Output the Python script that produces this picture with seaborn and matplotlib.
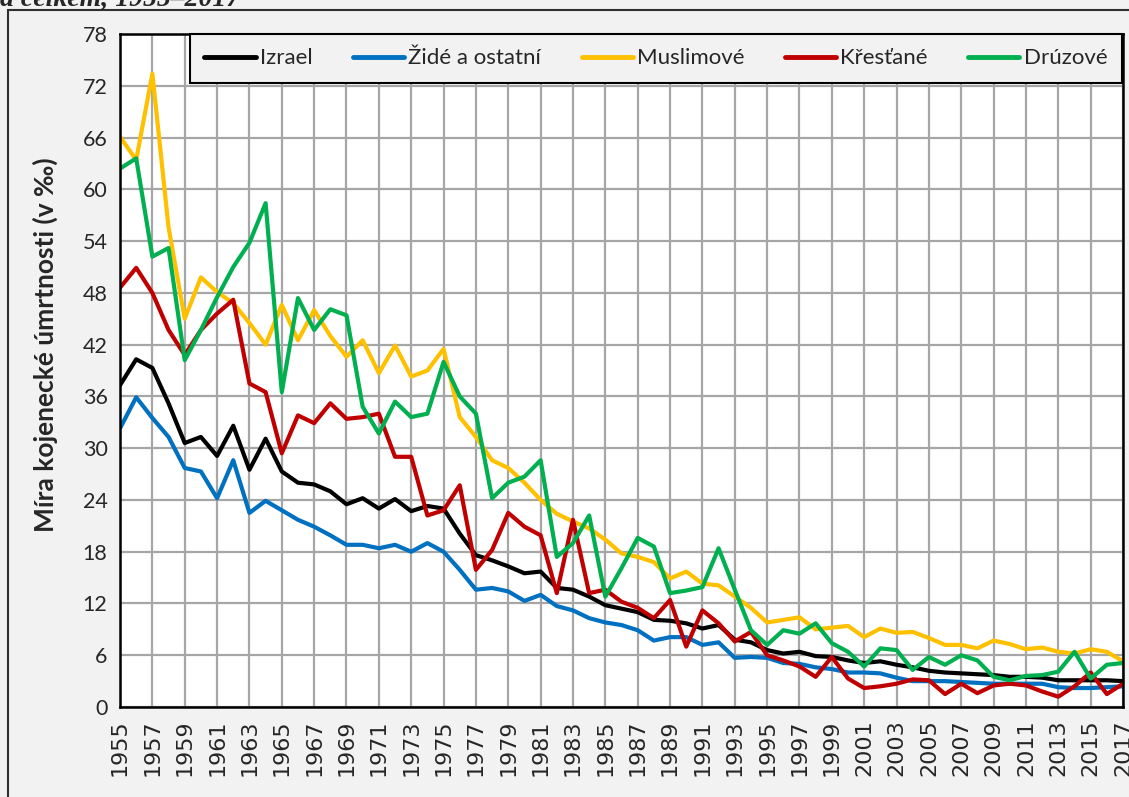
import matplotlib
matplotlib.use("Agg")
import matplotlib.pyplot as plt
import seaborn as sns
import pandas as pd
from matplotlib.patches import Rectangle

# kojenecká úmrtnost (v promilích), 1955-2017
years = list(range(1955, 2018))

izrael = [37.3, 40.3, 39.3, 35.2, 30.6, 31.3, 29.1, 32.6, 27.5, 31.1,
          27.3, 26.0, 25.8, 25.0, 23.5, 24.2, 23.0, 24.1, 22.7, 23.3,
          23.0, 20.1, 17.6, 17.0, 16.3, 15.5, 15.7, 13.8, 13.6, 12.8,
          11.8, 11.4, 11.0, 10.1, 10.0, 9.7, 9.1, 9.5, 7.8, 7.5,
          6.6, 6.2, 6.4, 5.9, 5.8, 5.4, 5.1, 5.3, 4.9, 4.6,
          4.2, 4.0, 3.9, 3.8, 3.7, 3.5, 3.5, 3.4, 3.1, 3.1,
          3.1, 3.1, 3.0]

zide = [32.3, 35.9, 33.5, 31.3, 27.7, 27.3, 24.2, 28.6, 22.5, 23.9,
        22.8, 21.7, 20.9, 19.9, 18.8, 18.8, 18.4, 18.8, 18.0, 19.0,
        18.0, 15.9, 13.6, 13.8, 13.4, 12.3, 13.0, 11.7, 11.2, 10.3,
        9.8, 9.5, 8.9, 7.7, 8.1, 8.1, 7.2, 7.5, 5.7, 5.8,
        5.7, 5.1, 5.0, 4.6, 4.4, 4.0, 4.0, 3.9, 3.4, 3.0,
        3.0, 3.0, 2.9, 2.8, 2.7, 2.7, 2.7, 2.7, 2.3, 2.2,
        2.2, 2.3, 2.4]

muslimove = [66.1, 63.4, 73.4, 55.6, 45.0, 49.8, 48.1, 46.8, 44.5, 42.0,
             46.6, 42.5, 46.0, 43.0, 40.6, 42.5, 38.7, 41.9, 38.3, 39.0,
             41.5, 33.6, 31.3, 28.6, 27.7, 26.0, 24.0, 22.4, 21.5, 20.7,
             19.4, 17.8, 17.4, 16.8, 14.9, 15.7, 14.3, 14.1, 12.8, 11.5,
             9.8, 10.1, 10.4, 9.0, 9.2, 9.4, 8.1, 9.1, 8.6, 8.7,
             8.0, 7.2, 7.2, 6.8, 7.7, 7.3, 6.7, 6.9, 6.4, 6.2,
             6.7, 6.4, 5.3]

krestane = [48.6, 50.9, 48.0, 43.7, 40.8, 43.7, 45.6, 47.2, 37.5, 36.5,
            29.4, 33.8, 32.9, 35.2, 33.4, 33.6, 34.0, 29.0, 29.0, 22.2,
            22.8, 25.7, 15.9, 18.2, 22.5, 20.9, 19.9, 13.2, 21.7, 13.2,
            13.6, 12.2, 11.5, 10.3, 12.4, 7.0, 11.2, 9.7, 7.6, 8.7,
            6.0, 5.4, 4.7, 3.5, 5.8, 3.3, 2.2, 2.4, 2.7, 3.2,
            3.1, 1.5, 2.7, 1.6, 2.5, 2.7, 2.5, 1.8, 1.2, 2.4,
            4.0, 1.5, 2.7]

druzove = [62.4, 63.6, 52.2, 53.2, 40.2, 43.7, 47.5, 51.0, 53.8, 58.4,
           36.5, 47.4, 43.7, 46.1, 45.4, 34.8, 31.7, 35.4, 33.6, 34.0,
           40.0, 36.0, 34.0, 24.2, 26.0, 26.7, 28.6, 17.4, 19.0, 22.2,
           12.8, 16.1, 19.6, 18.6, 13.2, 13.5, 13.9, 18.4, 13.6, 8.9,
           7.2, 8.9, 8.5, 9.7, 7.4, 6.4, 4.7, 6.8, 6.6, 4.3,
           5.8, 4.9, 6.0, 5.4, 3.5, 3.1, 3.6, 3.7, 4.1, 6.4,
           3.3, 4.9, 5.1]

names = ["Izrael", "Židé a ostatní", "Muslimové", "Křesťané", "Drúzové"]
colors = ["#000000", "#0070C0", "#FFC000", "#C00000", "#00B050"]
values = [izrael, zide, muslimove, krestane, druzove]

df = pd.DataFrame({
    "rok": years * len(names),
    "hodnota": sum(values, []),
    "skupina": sum([[n] * len(years) for n in names], []),
})

sns.set_theme(style="white")
plt.rcParams["font.family"] = ["Lato", "DejaVu Sans"]

fig = plt.figure(figsize=(11.29, 7.97), dpi=100, facecolor="#f2f2f2")
ax = fig.add_axes([0.1063, 0.1129, 0.8884, 0.8444])
ax.set_facecolor("white")

sns.lineplot(data=df, x="rok", y="hodnota", hue="skupina", hue_order=names,
             palette=colors, linewidth=3, ax=ax)
for line in ax.get_lines():
    line.set_solid_joinstyle("round")
    line.set_solid_capstyle("round")

ax.set_xlim(1955, 2017)
ax.set_ylim(0, 78)
ax.set_yticks(range(0, 79, 6))
ax.set_xticks(range(1955, 2018, 2))
ax.set_xticklabels([str(y) for y in range(1955, 2018, 2)], rotation=90,
                   fontsize=16, family="DejaVu Sans")
ax.tick_params(axis="y", labelsize=15.5, pad=9, length=0)
ax.tick_params(axis="x", pad=9, length=0)
ax.set_xlabel("")
ax.set_ylabel("")

ax.grid(True, color="#a6a6a6", linewidth=1.6)
ax.set_axisbelow(True)
for s in ax.spines.values():
    s.set_color("black")
    s.set_linewidth(1.8)

handles, labels = ax.get_legend_handles_labels()
leg = ax.legend(handles, labels, loc="upper left", ncol=5,
                bbox_to_anchor=(0.0698, 0, 0.929, 1.0), mode="expand",
                borderaxespad=0, fontsize=16, handlelength=2.3,
                handletextpad=0.2, borderpad=0.65, frameon=True,
                fancybox=False, facecolor="#f2f2f2", framealpha=1)
leg.get_frame().set_edgecolor("black")
leg.get_frame().set_linewidth(1.5)
for line in leg.get_lines():
    line.set_linewidth(3.5)

fig.text(45 / 1129, (797 - 345) / 797, "Míra kojenecké úmrtnosti (v ‰)",
         rotation=90, ha="center", va="center", fontsize=19, fontweight="bold")

fig.text(0.0, 1 - 6 / 797, "a celkem, 1955–2017", family="Liberation Serif",
         fontweight="bold", style="italic", fontsize=20, va="baseline")

fig.patches.append(Rectangle((8 / 1129, -0.1), 1.2, 1.1 - 10 / 797,
                             transform=fig.transFigure, fill=False,
                             edgecolor="#303030", linewidth=1.5))

fig.savefig("out.png", dpi=100, facecolor=fig.get_facecolor())
